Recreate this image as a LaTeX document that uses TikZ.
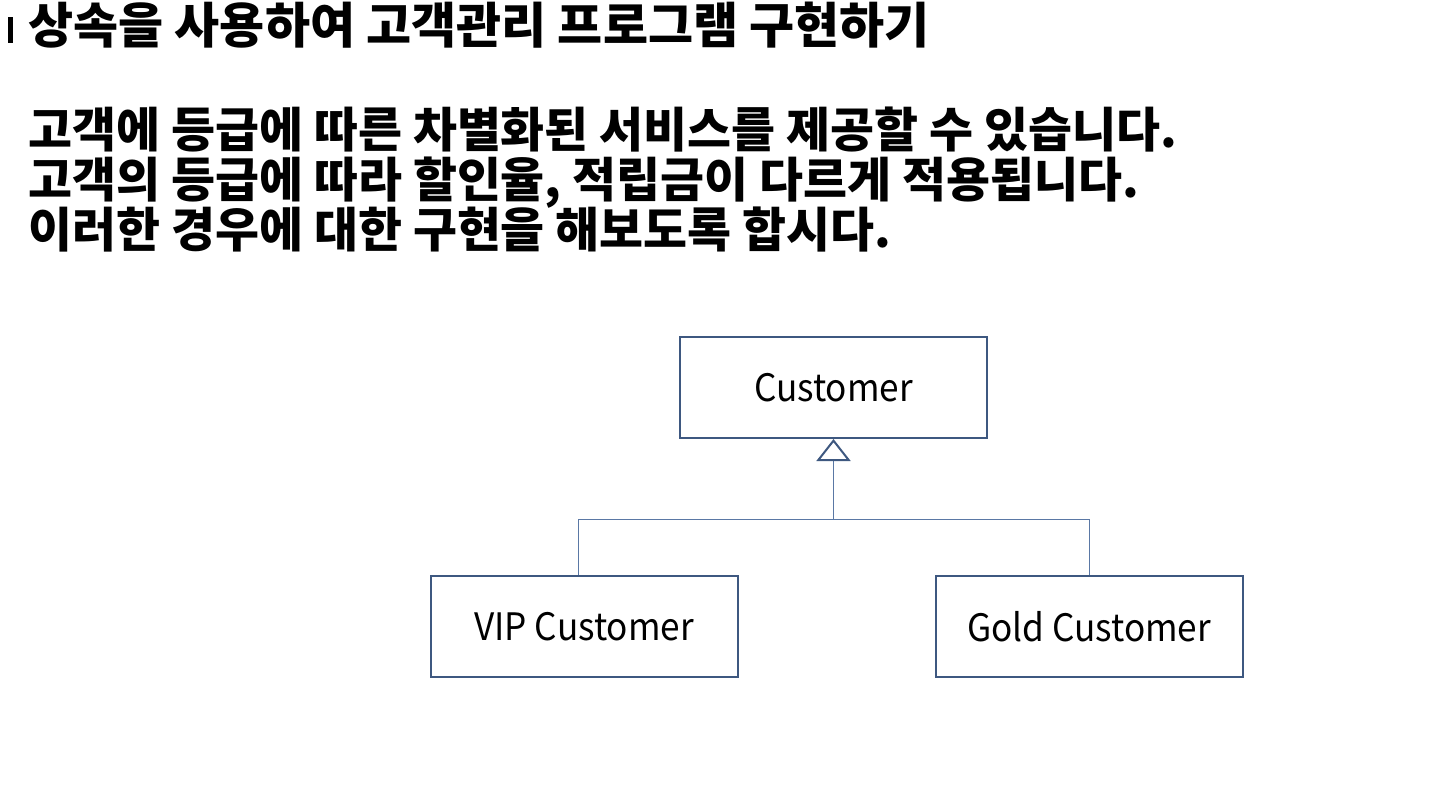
\documentclass[tikz,border=0pt]{standalone}
\usepackage{fontspec}
\setmainfont{Noto Sans CJK KR}
\newfontfamily\labelfont[FakeStretch = 0.93]{Noto Sans CJK KR}
\usetikzlibrary{arrows.meta}
\definecolor{boxblue}{RGB}{62, 88, 128}
\definecolor{lineblue}{RGB}{90, 120, 165}

\begin{document}
\begin{tikzpicture}[x = 0.5pt, y = -0.5pt,
        classbox/.style = {draw = boxblue, line width = 1pt, minimum width = 153.5pt, minimum height = 50.5pt, inner sep = 0pt, font = \labelfont\fontsize{18.9}{22}\selectfont},
        textline/.style = {anchor = base west, inner sep = 0pt, font = \bfseries\fontsize{23.9}{28}\selectfont},
        link/.style = {draw = lineblue, line width = 0.5pt}]
    \useasboundingbox [fill = white] (0, 0) rectangle (1442, 799);
    \fill (8, 17) rectangle (13, 43);
    \node [textline, font = \bfseries\fontsize{24.5}{28}\selectfont] (title) at (28, 43) {상속을 사용하여 고객관리 프로그램 구현하기};
    \node [textline] (line1) at (28, 147) {고객에 등급에 따른 차별화된 서비스를 제공할 수 있습니다.};
    \node [textline] (line2) at (28, 197) {고객의 등급에 따라 할인율, 적립금이 다르게 적용됩니다.};
    \node [textline] (line3) at (28, 247) {이러한 경우에 대한 구현을 해보도록 합시다.};
    \node [classbox] (customer) at (833.5, 387.5) {Customer};
    \node [classbox] (vip) at (584, 626.5) {VIP Customer};
    \node [classbox] (gold) at (1089, 626.5) {Gold Customer};
    \coordinate (join) at (833.5, 519);
    \draw [link] ([xshift = -3pt] vip.north) |- (join) -| (gold.north);
    \draw [link, -{Triangle[open, length = 11pt, width = 17pt, line width = 1pt, color = boxblue]}] (join) -- (customer.south);
\end{tikzpicture}
\end{document}
